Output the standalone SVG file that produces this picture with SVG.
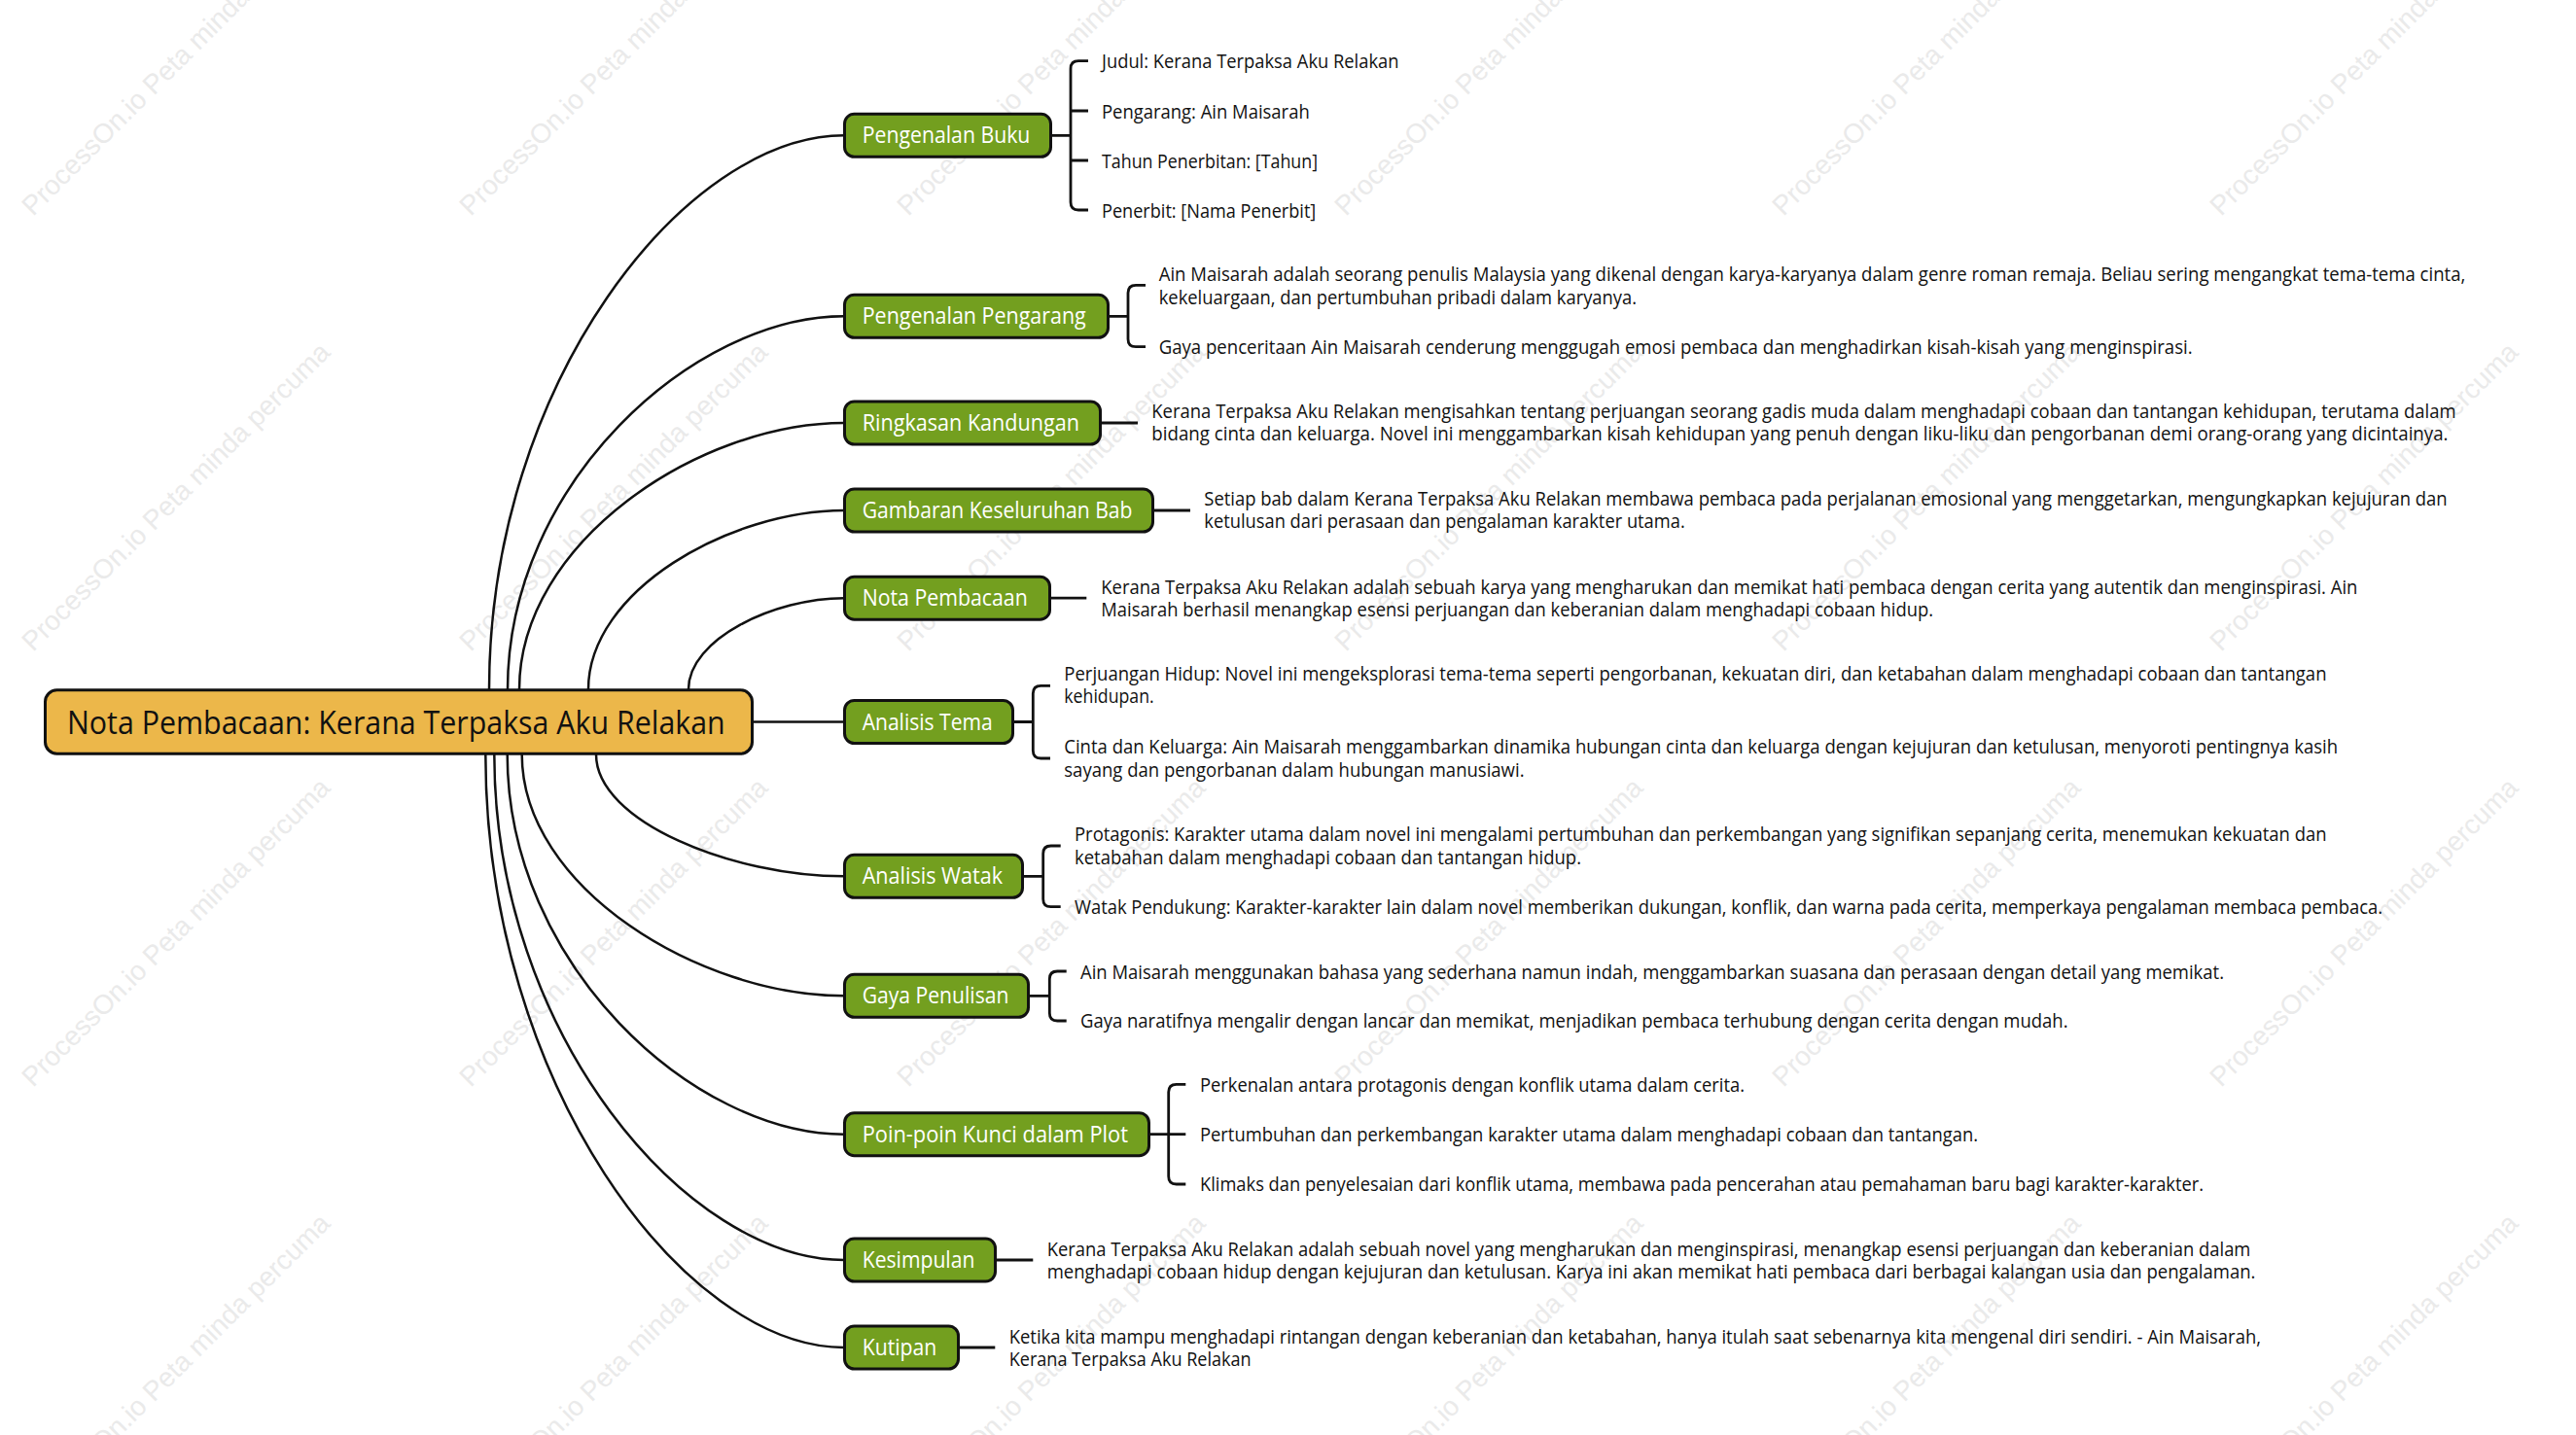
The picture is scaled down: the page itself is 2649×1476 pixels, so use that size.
<svg xmlns="http://www.w3.org/2000/svg" width="2649" height="1476" viewBox="0 0 2649 1476">
<style>
.wm{font-family:"Liberation Sans",Arial,sans-serif;font-size:28px;fill:#eaeaea}
.cv{fill:none;stroke:#111;stroke-width:2.5}
.br{fill:none;stroke:#111;stroke-width:2.8}
.box{fill:#739f1f;stroke:#111;stroke-width:3}
.root{fill:#ecb74a;stroke:#111;stroke-width:3}
.bt{font-family:"Open Sans","Noto Sans",sans-serif;font-size:23.4px;fill:#fff}
.rt{font-family:"Open Sans","Noto Sans",sans-serif;font-size:32.7px;fill:#111}
.lt{font-family:"Open Sans","Noto Sans",sans-serif;font-size:20px;fill:#111}
</style>
<rect width="2649" height="1476" fill="#fff"/>
<g id="watermark">
<text class="wm" transform="translate(34,223) rotate(-45)">ProcessOn.io Peta minda percuma</text>
<text class="wm" transform="translate(484,223) rotate(-45)">ProcessOn.io Peta minda percuma</text>
<text class="wm" transform="translate(934,223) rotate(-45)">ProcessOn.io Peta minda percuma</text>
<text class="wm" transform="translate(1384,223) rotate(-45)">ProcessOn.io Peta minda percuma</text>
<text class="wm" transform="translate(1834,223) rotate(-45)">ProcessOn.io Peta minda percuma</text>
<text class="wm" transform="translate(2284,223) rotate(-45)">ProcessOn.io Peta minda percuma</text>
<text class="wm" transform="translate(34,671) rotate(-45)">ProcessOn.io Peta minda percuma</text>
<text class="wm" transform="translate(484,671) rotate(-45)">ProcessOn.io Peta minda percuma</text>
<text class="wm" transform="translate(934,671) rotate(-45)">ProcessOn.io Peta minda percuma</text>
<text class="wm" transform="translate(1384,671) rotate(-45)">ProcessOn.io Peta minda percuma</text>
<text class="wm" transform="translate(1834,671) rotate(-45)">ProcessOn.io Peta minda percuma</text>
<text class="wm" transform="translate(2284,671) rotate(-45)">ProcessOn.io Peta minda percuma</text>
<text class="wm" transform="translate(34,1119) rotate(-45)">ProcessOn.io Peta minda percuma</text>
<text class="wm" transform="translate(484,1119) rotate(-45)">ProcessOn.io Peta minda percuma</text>
<text class="wm" transform="translate(934,1119) rotate(-45)">ProcessOn.io Peta minda percuma</text>
<text class="wm" transform="translate(1384,1119) rotate(-45)">ProcessOn.io Peta minda percuma</text>
<text class="wm" transform="translate(1834,1119) rotate(-45)">ProcessOn.io Peta minda percuma</text>
<text class="wm" transform="translate(2284,1119) rotate(-45)">ProcessOn.io Peta minda percuma</text>
<text class="wm" transform="translate(34,1567) rotate(-45)">ProcessOn.io Peta minda percuma</text>
<text class="wm" transform="translate(484,1567) rotate(-45)">ProcessOn.io Peta minda percuma</text>
<text class="wm" transform="translate(934,1567) rotate(-45)">ProcessOn.io Peta minda percuma</text>
<text class="wm" transform="translate(1384,1567) rotate(-45)">ProcessOn.io Peta minda percuma</text>
<text class="wm" transform="translate(1834,1567) rotate(-45)">ProcessOn.io Peta minda percuma</text>
<text class="wm" transform="translate(2284,1567) rotate(-45)">ProcessOn.io Peta minda percuma</text>
</g>
<g id="connectors">
<path class="cv" d="M503 709 C503 394.4 704.6 139.3 868 139.3"/>
<path class="cv" d="M522 709 C522 497.1 713.1 325.3 868 325.3"/>
<path class="cv" d="M534 709 C534 557.7 718.5 435 868 435"/>
<path class="cv" d="M605 709 C605 607.4 750.3 525 868 525"/>
<path class="cv" d="M708 709 C708 657.2 796.4 615.2 868 615.2"/>
<path class="cv" d="M775 742.5 H868"/>
<path class="cv" d="M613 776 C613 845.2 753.8 901.3 868 901.3"/>
<path class="cv" d="M536.7 776 C536.7 913.1 719.7 1024.3 868 1024.3"/>
<path class="cv" d="M521.7 776 C521.7 991.8 713 1166.7 868 1166.7"/>
<path class="cv" d="M508.3 776 C508.3 1063.2 707 1296 868 1296"/>
<path class="cv" d="M499.3 776 C499.3 1112.9 702.9 1386 868 1386"/>
<path class="br" d="M1082 139.3 H1101 M1119 62.7 H1109 Q1101 62.7 1101 70.7 V208 Q1101 216 1109 216 H1119 M1101 114 H1119 M1101 165 H1119"/>
<path class="br" d="M1140 325.3 H1160 M1178 293.3 H1168 Q1160 293.3 1160 301.3 V348.7 Q1160 356.7 1168 356.7 H1178"/>
<path class="br" d="M1133 435 H1170"/>
<path class="br" d="M1187 525 H1224"/>
<path class="br" d="M1080 615.2 H1117.3"/>
<path class="br" d="M1043 742.5 H1062.3 M1080 705.3 H1070.3 Q1062.3 705.3 1062.3 713.3 V772 Q1062.3 780 1070.3 780 H1080"/>
<path class="br" d="M1053 901.3 H1072.7 M1090.7 870 H1080.7 Q1072.7 870 1072.7 878 V924.7 Q1072.7 932.7 1080.7 932.7 H1090.7"/>
<path class="br" d="M1059 1024.3 H1079.3 M1096.7 999 H1087.3 Q1079.3 999 1079.3 1007 V1042 Q1079.3 1050 1087.3 1050 H1096.7"/>
<path class="br" d="M1183 1166.7 H1201.7 M1219.3 1115.3 H1209.7 Q1201.7 1115.3 1201.7 1123.3 V1210 Q1201.7 1218 1209.7 1218 H1219.3 M1201.7 1166.7 H1219.3"/>
<path class="br" d="M1025 1296 H1062.3"/>
<path class="br" d="M986.7 1386 H1023.3"/>
</g>
<g id="root">
<rect class="root" x="46.5" y="709.8" width="727" height="65.4" rx="12"/>
<text class="rt" x="69" y="755" textLength="676.7" lengthAdjust="spacingAndGlyphs">Nota Pembacaan: Kerana Terpaksa Aku Relakan</text>
</g>
<g id="node-pengenalan-buku">
<rect class="box" x="868.5" y="117.3" width="212" height="44" rx="10"/>
<text class="bt" x="886.7" y="147.3" textLength="172.7" lengthAdjust="spacingAndGlyphs">Pengenalan Buku</text>
</g>
<g id="node-pengenalan-pengarang">
<rect class="box" x="868.5" y="303.3" width="271" height="44" rx="10"/>
<text class="bt" x="886.7" y="333.3" textLength="230" lengthAdjust="spacingAndGlyphs">Pengenalan Pengarang</text>
</g>
<g id="node-ringkasan">
<rect class="box" x="868.5" y="413" width="263" height="44" rx="10"/>
<text class="bt" x="886.7" y="443" textLength="223.3" lengthAdjust="spacingAndGlyphs">Ringkasan Kandungan</text>
</g>
<g id="node-gambaran">
<rect class="box" x="868.5" y="503" width="317" height="44" rx="10"/>
<text class="bt" x="886.7" y="533" textLength="277.7" lengthAdjust="spacingAndGlyphs">Gambaran Keseluruhan Bab</text>
</g>
<g id="node-nota">
<rect class="box" x="868.5" y="593.2" width="211" height="44" rx="10"/>
<text class="bt" x="886.7" y="623.2" textLength="170" lengthAdjust="spacingAndGlyphs">Nota Pembacaan</text>
</g>
<g id="node-tema">
<rect class="box" x="868.5" y="720.5" width="173" height="44" rx="10"/>
<text class="bt" x="886.7" y="750.5" textLength="134" lengthAdjust="spacingAndGlyphs">Analisis Tema</text>
</g>
<g id="node-watak">
<rect class="box" x="868.5" y="879.3" width="183" height="44" rx="10"/>
<text class="bt" x="886.7" y="909.3" textLength="144.3" lengthAdjust="spacingAndGlyphs">Analisis Watak</text>
</g>
<g id="node-gaya">
<rect class="box" x="868.5" y="1002.3" width="189" height="44" rx="10"/>
<text class="bt" x="886.7" y="1032.3" textLength="150.7" lengthAdjust="spacingAndGlyphs">Gaya Penulisan</text>
</g>
<g id="node-poin">
<rect class="box" x="868.5" y="1144.7" width="313" height="44" rx="10"/>
<text class="bt" x="886.7" y="1174.7" textLength="273.3" lengthAdjust="spacingAndGlyphs">Poin-poin Kunci dalam Plot</text>
</g>
<g id="node-kesimpulan">
<rect class="box" x="868.5" y="1274" width="155" height="44" rx="10"/>
<text class="bt" x="886.7" y="1304" textLength="115.7" lengthAdjust="spacingAndGlyphs">Kesimpulan</text>
</g>
<g id="node-kutipan">
<rect class="box" x="868.5" y="1364" width="117" height="44" rx="10"/>
<text class="bt" x="886.7" y="1394" textLength="76.7" lengthAdjust="spacingAndGlyphs">Kutipan</text>
</g>
<g id="leaf-buku-1"><text class="lt" x="1133" y="69.8" textLength="305.5" lengthAdjust="spacingAndGlyphs">Judul: Kerana Terpaksa Aku Relakan</text></g>
<g id="leaf-buku-2"><text class="lt" x="1133" y="121.5" textLength="213.7" lengthAdjust="spacingAndGlyphs">Pengarang: Ain Maisarah</text></g>
<g id="leaf-buku-3"><text class="lt" x="1133" y="172.5" textLength="222" lengthAdjust="spacingAndGlyphs">Tahun Penerbitan: [Tahun]</text></g>
<g id="leaf-buku-4"><text class="lt" x="1133" y="223.5" textLength="220.3" lengthAdjust="spacingAndGlyphs">Penerbit: [Nama Penerbit]</text></g>
<g id="leaf-pengarang-1">
<text class="lt" x="1191.7" y="289.3" textLength="1343.6" lengthAdjust="spacingAndGlyphs">Ain Maisarah adalah seorang penulis Malaysia yang dikenal dengan karya-karyanya dalam genre roman remaja. Beliau sering mengangkat tema-tema cinta,</text>
<text class="lt" x="1191.7" y="312.7" textLength="491.3" lengthAdjust="spacingAndGlyphs">kekeluargaan, dan pertumbuhan pribadi dalam karyanya.</text>
</g>
<g id="leaf-pengarang-2"><text class="lt" x="1191.7" y="364" textLength="1062.9" lengthAdjust="spacingAndGlyphs">Gaya penceritaan Ain Maisarah cenderung menggugah emosi pembaca dan menghadirkan kisah-kisah yang menginspirasi.</text></g>
<g id="leaf-ringkasan">
<text class="lt" x="1184.3" y="430" textLength="1341.2" lengthAdjust="spacingAndGlyphs">Kerana Terpaksa Aku Relakan mengisahkan tentang perjuangan seorang gadis muda dalam menghadapi cobaan dan tantangan kehidupan, terutama dalam</text>
<text class="lt" x="1184.3" y="453.3" textLength="1333.2" lengthAdjust="spacingAndGlyphs">bidang cinta dan keluarga. Novel ini menggambarkan kisah kehidupan yang penuh dengan liku-liku dan pengorbanan demi orang-orang yang dicintainya.</text>
</g>
<g id="leaf-gambaran">
<text class="lt" x="1238.3" y="520" textLength="1278.3" lengthAdjust="spacingAndGlyphs">Setiap bab dalam Kerana Terpaksa Aku Relakan membawa pembaca pada perjalanan emosional yang menggetarkan, mengungkapkan kejujuran dan</text>
<text class="lt" x="1238.3" y="543.3" textLength="494.4" lengthAdjust="spacingAndGlyphs">ketulusan dari perasaan dan pengalaman karakter utama.</text>
</g>
<g id="leaf-nota">
<text class="lt" x="1132.3" y="610.7" textLength="1292.1" lengthAdjust="spacingAndGlyphs">Kerana Terpaksa Aku Relakan adalah sebuah karya yang mengharukan dan memikat hati pembaca dengan cerita yang autentik dan menginspirasi. Ain</text>
<text class="lt" x="1132.3" y="634" textLength="855.7" lengthAdjust="spacingAndGlyphs">Maisarah berhasil menangkap esensi perjuangan dan keberanian dalam menghadapi cobaan hidup.</text>
</g>
<g id="leaf-tema-1">
<text class="lt" x="1094.3" y="700" textLength="1298.2" lengthAdjust="spacingAndGlyphs">Perjuangan Hidup: Novel ini mengeksplorasi tema-tema seperti pengorbanan, kekuatan diri, dan ketabahan dalam menghadapi cobaan dan tantangan</text>
<text class="lt" x="1094.3" y="723.3" textLength="92.4" lengthAdjust="spacingAndGlyphs">kehidupan.</text>
</g>
<g id="leaf-tema-2">
<text class="lt" x="1094.3" y="775" textLength="1309.7" lengthAdjust="spacingAndGlyphs">Cinta dan Keluarga: Ain Maisarah menggambarkan dinamika hubungan cinta dan keluarga dengan kejujuran dan ketulusan, menyoroti pentingnya kasih</text>
<text class="lt" x="1094.3" y="798.7" textLength="473.2" lengthAdjust="spacingAndGlyphs">sayang dan pengorbanan dalam hubungan manusiawi.</text>
</g>
<g id="leaf-watak-1">
<text class="lt" x="1105" y="865" textLength="1287.5" lengthAdjust="spacingAndGlyphs">Protagonis: Karakter utama dalam novel ini mengalami pertumbuhan dan perkembangan yang signifikan sepanjang cerita, menemukan kekuatan dan</text>
<text class="lt" x="1105" y="889.3" textLength="521" lengthAdjust="spacingAndGlyphs">ketabahan dalam menghadapi cobaan dan tantangan hidup.</text>
</g>
<g id="leaf-watak-2"><text class="lt" x="1105" y="940" textLength="1345" lengthAdjust="spacingAndGlyphs">Watak Pendukung: Karakter-karakter lain dalam novel memberikan dukungan, konflik, dan warna pada cerita, memperkaya pengalaman membaca pembaca.</text></g>
<g id="leaf-gaya-1"><text class="lt" x="1111" y="1006.7" textLength="1176" lengthAdjust="spacingAndGlyphs">Ain Maisarah menggunakan bahasa yang sederhana namun indah, menggambarkan suasana dan perasaan dengan detail yang memikat.</text></g>
<g id="leaf-gaya-2"><text class="lt" x="1111" y="1057.3" textLength="1015.5" lengthAdjust="spacingAndGlyphs">Gaya naratifnya mengalir dengan lancar dan memikat, menjadikan pembaca terhubung dengan cerita dengan mudah.</text></g>
<g id="leaf-poin-1"><text class="lt" x="1234" y="1123.3" textLength="560" lengthAdjust="spacingAndGlyphs">Perkenalan antara protagonis dengan konflik utama dalam cerita.</text></g>
<g id="leaf-poin-2"><text class="lt" x="1234" y="1174" textLength="800" lengthAdjust="spacingAndGlyphs">Pertumbuhan dan perkembangan karakter utama dalam menghadapi cobaan dan tantangan.</text></g>
<g id="leaf-poin-3"><text class="lt" x="1234" y="1225.3" textLength="1032" lengthAdjust="spacingAndGlyphs">Klimaks dan penyelesaian dari konflik utama, membawa pada pencerahan atau pemahaman baru bagi karakter-karakter.</text></g>
<g id="leaf-kesimpulan">
<text class="lt" x="1076.7" y="1291.7" textLength="1237.7" lengthAdjust="spacingAndGlyphs">Kerana Terpaksa Aku Relakan adalah sebuah novel yang mengharukan dan menginspirasi, menangkap esensi perjuangan dan keberanian dalam</text>
<text class="lt" x="1076.7" y="1315" textLength="1242.7" lengthAdjust="spacingAndGlyphs">menghadapi cobaan hidup dengan kejujuran dan ketulusan. Karya ini akan memikat hati pembaca dari berbagai kalangan usia dan pengalaman.</text>
</g>
<g id="leaf-kutipan">
<text class="lt" x="1037.7" y="1381.7" textLength="1287.3" lengthAdjust="spacingAndGlyphs">Ketika kita mampu menghadapi rintangan dengan keberanian dan ketabahan, hanya itulah saat sebenarnya kita mengenal diri sendiri. - Ain Maisarah,</text>
<text class="lt" x="1037.7" y="1405" textLength="249" lengthAdjust="spacingAndGlyphs">Kerana Terpaksa Aku Relakan</text>
</g>
</svg>
